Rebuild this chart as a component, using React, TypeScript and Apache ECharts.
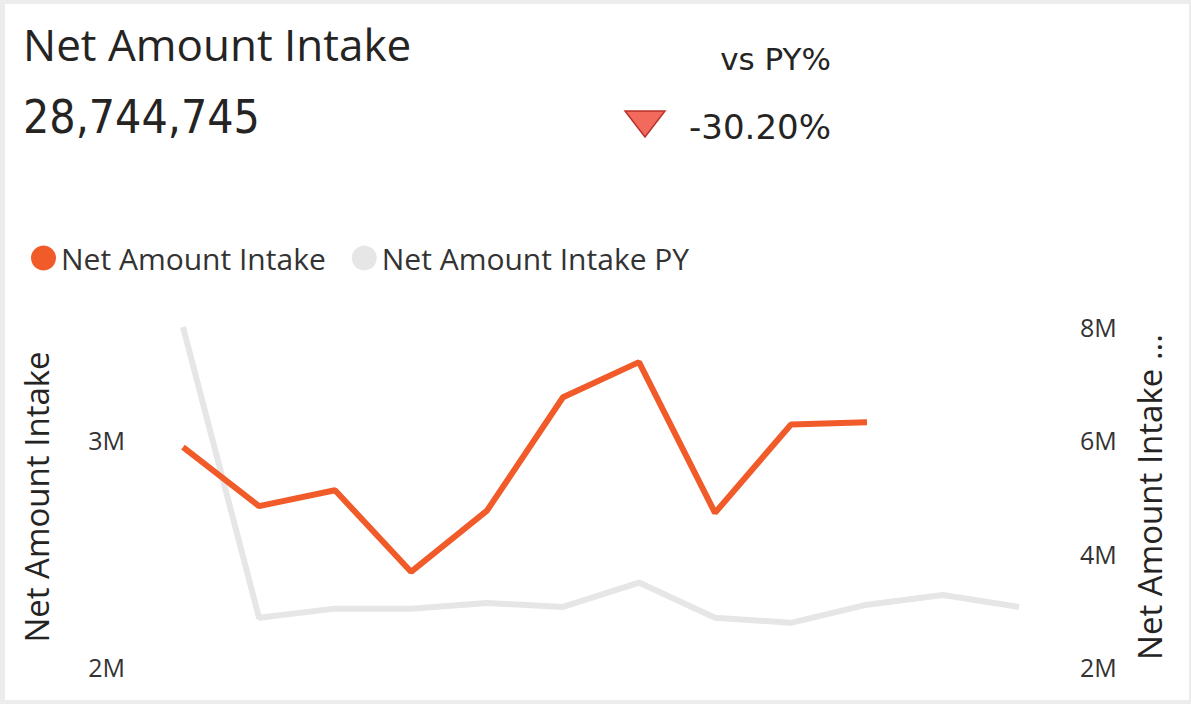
import React, { useEffect, useRef } from "react";
import * as echarts from "echarts";

const months = ["Jan", "Feb", "Mar", "Apr", "May", "Jun", "Jul", "Aug", "Sep", "Oct", "Nov", "Dec"];
const netAmountIntake = [2.97e6, 2.71e6, 2.78e6, 2.42e6, 2.69e6, 3.19e6, 3.345e6, 2.68e6, 3.07e6, 3.08e6];
const netAmountIntakePY = [8.0e6, 2.87e6, 3.03e6, 3.03e6, 3.13e6, 3.06e6, 3.49e6, 2.87e6, 2.78e6, 3.1e6, 3.27e6, 3.06e6];
const leftTicks = [2e6, 3e6];
const rightTicks = [2e6, 4e6, 6e6, 8e6];
const kpiTitle = "Net Amount Intake";
const kpiValue = "28,744,745";
const kpiCompareLabel = "vs PY%";
const kpiCompareValue = "-30.20%";

const FONT = "'Open Sans', 'Noto Sans', sans-serif";
const NUMFONT = "'DejaVu Sans Condensed', 'DejaVu Sans', sans-serif";
const WIDEFONT = "'DejaVu Sans', sans-serif";
const fmtM = (v: number) => `${Math.round(v / 1e6)}M`;

export default function App() {
  const ref = useRef<HTMLDivElement>(null);
  useEffect(() => {
    if (!ref.current) return;
    const chart = echarts.init(ref.current, undefined, { renderer: "svg" });
    chart.setOption({
      animation: false,
      backgroundColor: "#ECECEC",
      graphic: [
        { type: "rect", z: -10, shape: { x: 5, y: 4, width: 1184, height: 696 }, style: { fill: "#FFFFFF" } },
        {
          type: "text", x: 23, y: 44,
          style: { text: kpiTitle, font: `400 44px ${FONT}`, fill: "#252423", verticalAlign: "middle" },
        },
        {
          type: "text", x: 23, y: 117,
          style: { text: kpiValue, font: `400 46px ${NUMFONT}`, fill: "#252423", verticalAlign: "middle" },
        },
        {
          type: "text", x: 831, y: 59,
          style: { text: kpiCompareLabel, font: `400 31px ${WIDEFONT}`, fill: "#252423", align: "right", verticalAlign: "middle" },
        },
        {
          type: "text", x: 831, y: 127,
          style: { text: kpiCompareValue, font: `400 34px ${WIDEFONT}`, fill: "#252423", align: "right", verticalAlign: "middle" },
        },
        {
          type: "polygon",
          shape: { points: [[625, 111], [665, 111], [645, 137]] },
          style: { fill: "#F26A5C", stroke: "#B8322A", lineWidth: 1.5 },
        },
      ],
      legend: {
        left: 26, top: 238, icon: "circle", itemWidth: 25, itemHeight: 25, itemGap: 26,
        textStyle: { fontFamily: FONT, fontSize: 30, color: "#333333", padding: [0, 0, 0, 0] },
        data: ["Net Amount Intake", "Net Amount Intake PY"],
      },
      grid: { left: 183, right: 172, top: 327, bottom: 37 },
      xAxis: {
        type: "category", data: months, boundaryGap: false,
        axisLine: { show: false }, axisTick: { show: false }, axisLabel: { show: false }, splitLine: { show: false },
      },
      yAxis: [
        {
          type: "value", min: 2e6, max: 3.5e6, interval: 1e6, position: "left",
          name: "Net Amount Intake", nameLocation: "middle", nameGap: 130, nameRotate: 90,
          nameTextStyle: { fontFamily: FONT, fontSize: 33, color: "#252423" },
          axisLine: { show: false }, axisTick: { show: false }, splitLine: { show: false },
          axisLabel: {
            margin: 58, fontFamily: FONT, fontSize: 25, color: "#333333",
            formatter: (v: number) => (leftTicks.includes(v) ? fmtM(v) : ""),
          },
        },
        {
          type: "value", min: 2e6, max: 8e6, interval: 2e6, position: "right",
          name: "Net Amount Intake ...", nameLocation: "middle", nameGap: 114, nameRotate: 90,
          nameTextStyle: { fontFamily: FONT, fontSize: 33, color: "#252423" },
          axisLine: { show: false }, axisTick: { show: false }, splitLine: { show: false },
          axisLabel: {
            margin: 61, fontFamily: FONT, fontSize: 25, color: "#333333",
            formatter: (v: number) => (rightTicks.includes(v) ? fmtM(v) : ""),
          },
        },
      ],
      series: [
        {
          name: "Net Amount Intake PY", type: "line", yAxisIndex: 1, data: netAmountIntakePY,
          showSymbol: false, symbol: "none", color: "#E6E6E6", clip: false,
          lineStyle: { width: 6, color: "#E6E6E6" }, z: 1,
        },
        {
          name: "Net Amount Intake", type: "line", yAxisIndex: 0, data: netAmountIntake,
          showSymbol: false, symbol: "none", color: "#F15A29", clip: false,
          lineStyle: { width: 6, color: "#F15A29" }, z: 2,
        },
      ],
    });
    return () => chart.dispose();
  }, []);
  return (
    <div style={{ position: "fixed", left: 0, top: 0, width: 1191, height: 704 }}>
      <div ref={ref} style={{ width: 1191, height: 704 }} />
    </div>
  );
}
